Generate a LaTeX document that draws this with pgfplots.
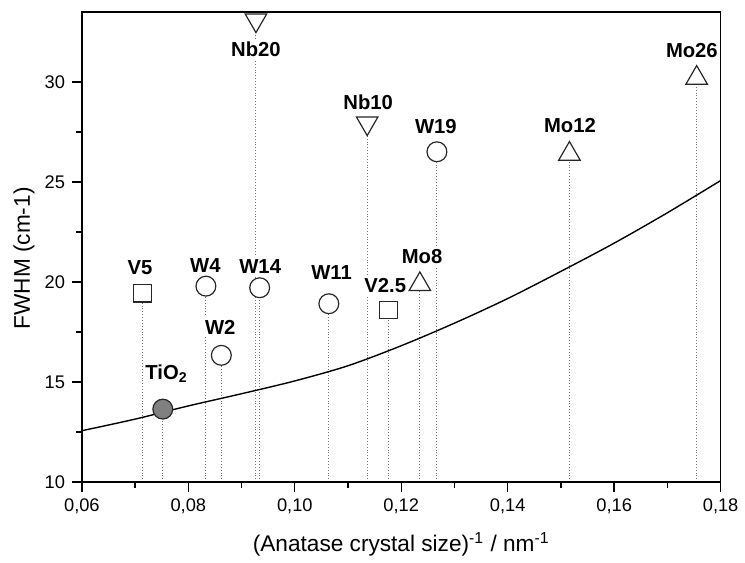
\documentclass[border=0pt]{standalone}
\usepackage{fontspec}
\setmainfont{Liberation Sans}
\usepackage{pgfplots}
\pgfplotsset{compat=1.18}
\begin{document}
\begin{tikzpicture}
\begin{axis}[
  scale only axis,
  width=321.75pt, height=236.7pt,
  xmin=0.06, xmax=0.18, ymin=10, ymax=33.5,
  xtick={0.06,0.08,0.10,0.12,0.14,0.16,0.18},
  ytick={10,15,20,25,30},
  minor x tick num=1, minor y tick num=1,
  xtick pos=bottom, ytick pos=left,
  tick align=outside,
  major tick length=5pt, minor tick length=3pt,
  axis line style={line width=0.75pt},
  every tick/.style={line width=0.7pt, black},
  axis on top,
  /pgf/number format/assume math mode=true,
  xticklabel style={/pgf/number format/fixed, /pgf/number format/fixed zerofill, /pgf/number format/precision=2, /pgf/number format/use comma},
  tick label style={font=\fontsize{9.2}{11}\selectfont},
  label style={font=\fontsize{11.4}{13}\selectfont},
  xlabel={(Anatase crystal size)\textsuperscript{-1} / nm\textsuperscript{-1}},
  ylabel={FWHM (cm-1)},
  xlabel style={at={(axis description cs:0.5,-0.148)}, anchor=base},
  ylabel style={at={(axis description cs:-0.0816,0.476)}, anchor=base},
  clip=true,
]
% drop lines
\addplot[ycomb, densely dotted, black!55, line width=0.45pt] table {
x y
0.0714 19.44
0.0752 13.65
0.0833 19.80
0.0862 16.34
0.0927 33.1
0.0934 19.72
0.1064 18.92
0.1136 27.95
0.1176 18.60
0.1235 19.89
0.1267 26.52
0.1516 26.41
0.1755 30.21
};
% fitted curve
\addplot[smooth, black, line width=0.7pt] table {
x y
0.060 12.57
0.070 13.15
0.080 13.81
0.090 14.42
0.100 15.06
0.110 15.82
0.120 16.82
0.130 17.95
0.140 19.18
0.150 20.54
0.160 21.95
0.170 23.47
0.180 25.08
};
% labels
\begin{scope}[every node/.style={fill=white, inner sep=1.2pt, font=\fontsize{10.2}{12}\selectfont\bfseries}]
\node at (axis cs:0.0927,31.66) {Nb20};
\node at (axis cs:0.1138,29.02) {Nb10};
\node at (axis cs:0.1265,27.78) {W19};
\node at (axis cs:0.1517,27.83) {Mo12};
\node at (axis cs:0.1746,31.56) {Mo26};
\node at (axis cs:0.0709,20.74) {V5};
\node at (axis cs:0.0832,20.84) {W4};
\node at (axis cs:0.0935,20.79) {W14};
\node at (axis cs:0.1069,20.50) {W11};
\node at (axis cs:0.0860,17.76) {W2};
\node at (axis cs:0.0759,15.40) {TiO\textsubscript{2}};
\node at (axis cs:0.1170,19.83) {V2.5};
\node at (axis cs:0.1239,21.30) {Mo8};
\end{scope}
% markers
\addplot[only marks, mark=*, mark size=5pt, mark options={fill=white, draw=black!85, line width=0.6pt}] table {
x y
0.0833 19.80
0.0862 16.34
0.0934 19.72
0.1064 18.92
0.1267 26.52
};
\addplot[only marks, mark=square*, mark size=4.4pt, mark options={fill=white, draw=black!85, line width=0.6pt}] table {
x y
0.0714 19.44
0.1176 18.60
};
\addplot[only marks, mark=triangle*, mark size=6.25pt, mark options={fill=white, draw=black!85, line width=0.6pt}] table {
x y
0.1235 19.89
0.1516 26.41
0.1755 30.21
};
\addplot[only marks, mark=triangle*, mark size=6.25pt, mark options={fill=white, draw=black!85, line width=0.6pt, rotate=180}] table {
x y
0.0927 33.1
0.1136 27.95
};
\addplot[only marks, mark=*, mark size=5pt, mark options={fill=black!50, draw=black!85, line width=0.6pt}] table {
x y
0.0752 13.65
};
\end{axis}
\path ([xshift=-41.25pt,yshift=-38.15pt]current axis.south west) rectangle ([xshift=9.5pt,yshift=6.15pt]current axis.north east);
\end{tikzpicture}
\end{document}
